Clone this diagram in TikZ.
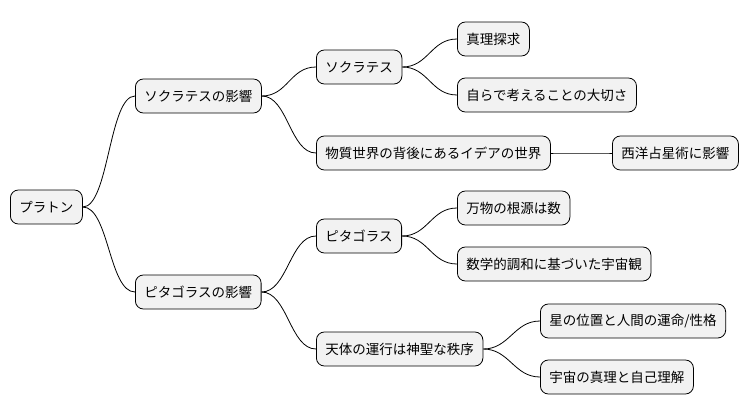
\documentclass[tikz,border=0pt]{standalone}
\usepackage{fontspec}
\setmainfont{Noto Sans CJK JP}
\usetikzlibrary{positioning}

\tikzset{
  topic/.style={draw=black, fill=gray!10, rounded corners=8pt, line width=0.8pt,
    minimum height=34pt, inner xsep=9pt, anchor=west,
    font=\fontsize{13.5}{15}\selectfont},
  branch/.style={line width=0.8pt}
}

\begin{document}
\begin{tikzpicture}[x=1pt, y=-1pt]
        \useasboundingbox (0,0) rectangle (754,415);
        % root
        \node[topic] (plato) at (10,207) {プラトン};

        % first level
        \node[topic] (socinf) at (135,96) {ソクラテスの影響};
        \node[topic] (pytinf) at (135,292) {ピタゴラスの影響};

        % socrates side
        \node[topic] (soc) at (316,67) {ソクラテス};
        \node[topic] (idea) at (316,153) {物質世界の背後にあるイデアの世界};
        \node[topic] (truth) at (457,39) {真理探求};
        \node[topic] (think) at (457,95) {自らで考えることの大切さ};
        \node[topic] (astro) at (612,153) {西洋占星術に影響};

        % pythagoras side
        \node[topic] (pyt) at (316,236) {ピタゴラス};
        \node[topic] (order) at (316,349) {天体の運行は神聖な秩序};
        \node[topic] (number) at (457,208) {万物の根源は数};
        \node[topic] (harmony) at (457,264) {数学的調和に基づいた宇宙観};
        \node[topic] (fate) at (540,321) {星の位置と人間の運命/性格};
        \node[topic] (self) at (540,377) {宇宙の真理と自己理解};

        \foreach \a/\b in {plato/socinf, plato/pytinf, socinf/soc, socinf/idea,
          soc/truth, soc/think, idea/astro, pytinf/pyt, pytinf/order,
          pyt/number, pyt/harmony, order/fate, order/self}
        {
          \draw[branch] (\a.east) .. controls +(26,0) and +(-26,0) .. (\b.west);
        }
    \end{tikzpicture}
\end{document}
